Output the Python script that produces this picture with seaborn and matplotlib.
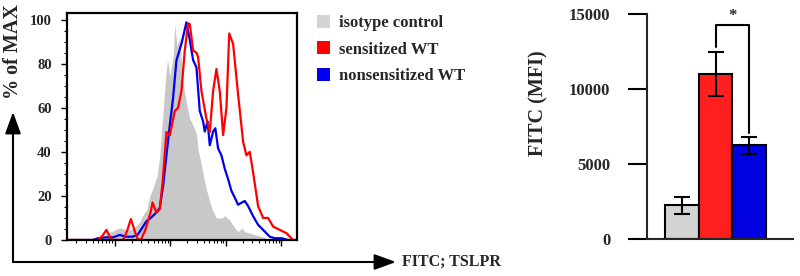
import numpy as np
import pandas as pd
import matplotlib
matplotlib.use("Agg")
import matplotlib.pyplot as plt
from matplotlib.patches import Patch
import seaborn as sns

# -------------------------
# Histogram data (x = log10 FITC intensity, y = % of max)
# -------------------------
iso_log = [0.14, 0.60, 0.73, 0.82, 0.96, 1.09, 1.22, 1.32, 1.45, 1.50, 1.58, 1.63, 1.68, 1.76,
           1.81, 1.86, 1.92, 1.95, 1.99, 2.05, 2.08, 2.12, 2.17, 2.20, 2.23, 2.30, 2.35, 2.41,
           2.47, 2.50, 2.56, 2.62, 2.68, 2.75, 2.83, 2.93, 2.98, 3.07, 3.16, 3.22, 3.29, 3.34,
           3.47, 3.65, 3.79, 4.28]
iso_pct = [0, 0, 1, 2.5, 4, 5.5, 4.6, 5, 8, 11, 14, 20, 23, 29,
           38, 55, 75, 82, 74, 83, 98, 88, 92, 80, 71, 61, 55, 52,
           48, 41, 34, 26, 20, 14, 10, 10, 11, 9, 5.4, 3.8, 5.4, 3.8,
           2.8, 1.5, 0, 0]

sens_log = [0.14, 0.70, 0.78, 0.85, 0.92, 0.96, 1.15, 1.22, 1.29, 1.36, 1.41, 1.47, 1.55, 1.65,
            1.68, 1.75, 1.81, 1.86, 1.93, 1.99, 2.08, 2.14, 2.20, 2.26, 2.32, 2.35, 2.41, 2.47,
            2.50, 2.56, 2.65, 2.71, 2.77, 2.83, 2.89, 2.95, 3.01, 3.06, 3.13, 3.22, 3.31, 3.37,
            3.43, 3.49, 3.58, 3.67, 3.76, 3.85, 3.97, 4.09, 4.21, 4.28]
sens_pct = [0, 0, 2, 4.6, 1, 0, 0, 4, 9.5, 4, 0.5, 0, 4.6, 13,
            17, 12.4, 14, 26, 49, 47.5, 58.5, 60, 67.6, 86, 98.3, 98, 86, 85,
            83, 67.6, 55, 49, 67.6, 77.6, 67.6, 47.6, 60, 93.7, 89, 66, 44.6, 38.4,
            40, 30.6, 15.4, 10, 10, 6.1, 4.6, 3.1, 0, 0]

nons_log = [0.14, 0.60, 0.70, 0.85, 0.97, 1.09, 1.20, 1.32, 1.41, 1.47, 1.57, 1.62, 1.68, 1.74,
            1.81, 1.87, 1.93, 1.99, 2.05, 2.11, 2.20, 2.29, 2.35, 2.41, 2.47, 2.53, 2.59, 2.62,
            2.67, 2.71, 2.77, 2.81, 2.86, 2.92, 2.98, 3.04, 3.10, 3.16, 3.22, 3.28, 3.34, 3.40,
            3.49, 3.58, 3.67, 3.79, 3.88, 4.00, 4.12, 4.28]
nons_pct = [0, 0, 0.8, 1.2, 1.2, 2.3, 1.5, 1.5, 2.3, 4.6, 8.5, 9.5, 10.8, 12.3,
            14.6, 24.6, 38.5, 52, 64.6, 81.5, 89, 98.8, 90.8, 81.6, 78.3, 58.5, 53.8, 49.2,
            53.8, 43, 49.2, 50.7, 41.5, 38.4, 32.3, 27.6, 22.3, 19.2, 16, 16.9, 17.7, 15.4,
            10.8, 6.9, 4.6, 1.5, 0.8, 0.8, 0, 0]

legend_labels = ["isotype control", "sensitized WT", "nonsensitized WT"]

# -------------------------
# Bar data (MFI)
# -------------------------
groups = ["isotype control", "sensitized WT", "nonsensitized WT"]
mfi = [2250, 11000, 6250]
mfi_err = [550, 1450, 550]

gray_c = "#d3d3d3"
red_c = "#ff1f1f"
blue_c = "#0000e0"

sns.set_style("white")
plt.rcParams["font.family"] = ["Liberation Serif", "DejaVu Serif"]
plt.rcParams["font.weight"] = "bold"

fig = plt.figure(figsize=(8, 2.76), dpi=100)

# -------------------------
# Histogram panel
# -------------------------
ax = fig.add_axes([67 / 800, 36 / 276, 230 / 800, 227 / 276])
iso_x = 10 ** np.array(iso_log)
ax.fill_between(iso_x, iso_pct, color="#c8c8c8", lw=0)
sns.lineplot(x=10 ** np.array(nons_log), y=nons_pct, ax=ax, color="#0000ee", lw=1.6, estimator=None)
sns.lineplot(x=10 ** np.array(sens_log), y=sens_pct, ax=ax, color="#ff0000", lw=1.6, estimator=None)
ax.set_xscale("log")
ax.set_xlim(10 ** 0.14, 10 ** 4.28)
ax.set_ylim(0, 103)
ax.set_yticks([0, 20, 40, 60, 80, 100])
ax.set_yticks(np.arange(0, 101, 5), minor=True)
ax.xaxis.set_major_formatter(plt.NullFormatter())
ax.xaxis.set_minor_formatter(plt.NullFormatter())
ax.tick_params(axis="both", which="major", direction="out", length=4, width=1, color="black",
               bottom=True, left=True)
ax.tick_params(axis="both", which="minor", direction="out", length=2.5, width=0.8, color="black",
               bottom=True, left=True)
ax.tick_params(axis="y", which="major", labelsize=10.5, pad=7)
for lab in ax.get_yticklabels():
    lab.set_fontweight("bold")
for s in ax.spines.values():
    s.set_linewidth(1.6)
    s.set_color("black")
ax.set_xlabel("")
ax.set_ylabel("")

handles = [Patch(facecolor=c, edgecolor="none") for c in [gray_c, "#ff0000", "#0000ee"]]
fig.legend(handles, legend_labels, loc="upper left", bbox_to_anchor=(302 / 800, 1.0),
           frameon=False, handlelength=0.8, handleheight=0.8, handletextpad=0.5,
           labelspacing=0.62, prop={"weight": "bold", "size": 12})

# outer arrows
arrow = dict(arrowstyle="-|>,head_length=1.1,head_width=0.4", color="black", lw=1.5,
             shrinkA=0, shrinkB=0, mutation_scale=12)
fig.add_artist(plt.Annotation("", xy=(13, 276 - 112), xytext=(13, 276 - 262),
                              xycoords="figure pixels", textcoords="figure pixels", arrowprops=arrow))
fig.add_artist(plt.Annotation("", xy=(396, 276 - 262), xytext=(13, 276 - 262),
                              xycoords="figure pixels", textcoords="figure pixels", arrowprops=arrow))
fig.text(13 / 800, 1 - 52 / 276, "% of MAX", rotation=90, ha="center", va="center",
         fontsize=14.5, fontweight="bold")
fig.text(402 / 800, 1 - 262 / 276, "FITC; TSLPR", ha="left", va="center",
         fontsize=11.5, fontweight="bold")

# -------------------------
# Bar panel
# -------------------------
ax2 = fig.add_axes([647 / 800, 37 / 276, 146 / 800, 225 / 276])
bar_df = pd.DataFrame({"group": groups, "mfi": mfi})
sns.barplot(data=bar_df, x="group", y="mfi", hue="group", palette=[gray_c, red_c, blue_c],
            saturation=1, width=1.0, edgecolor="black", linewidth=1.5, legend=False, ax=ax2)
ax2.errorbar(range(len(groups)), mfi, yerr=mfi_err, fmt="none", ecolor="black",
             elinewidth=1.5, capsize=6, capthick=1.5)
ax2.set_xlim(-1.05, 3.31)
ax2.set_ylim(0, 15000)
ax2.set_yticks([0, 5000, 10000, 15000])
ax2.set_xticks([])
ax2.tick_params(axis="y", direction="out", length=13.5, width=1.5, color="black", pad=13,
                labelsize=12, left=True)
for lab in ax2.get_yticklabels():
    lab.set_fontweight("bold")
sns.despine(ax=ax2, top=True, right=True)
ax2.spines["left"].set_linewidth(1.5)
ax2.spines["bottom"].set_linewidth(1.5)
ax2.set_xlabel("")
ax2.set_ylabel("FITC (MFI)", fontsize=14.5, fontweight="bold")
ax2.yaxis.set_label_coords((548 - 647) / 146, (239 - 103) / 225)

# significance bracket between sensitized and nonsensitized
ax2.plot([1, 1, 2, 2], [12800, 14270, 14270, 7070], color="black", lw=1.5, clip_on=False)
ax2.text(1.5, 14350, "*", ha="center", va="bottom", fontsize=12, fontweight="bold")

fig.savefig("out.png", dpi=100)
